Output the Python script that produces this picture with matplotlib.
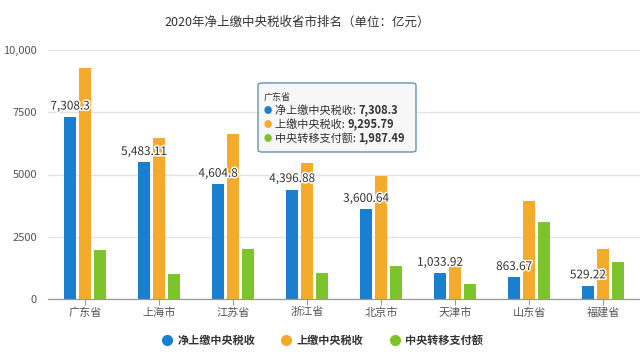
import matplotlib
matplotlib.use("Agg")
import matplotlib.pyplot as plt
from matplotlib.lines import Line2D
from matplotlib.patches import FancyBboxPatch
import matplotlib.patheffects as pe
import numpy as np

plt.rcParams['font.family'] = ['Noto Sans CJK SC', 'DejaVu Sans']

categories = ["广东省", "上海市", "江苏省", "浙江省", "北京市", "天津市", "山东省", "福建省"]
net_tax = [7308.3, 5483.11, 4604.8, 4396.88, 3600.64, 1033.92, 863.67, 529.22]
paid_tax = [9295.79, 6470, 6620, 5470, 4920, 1590, 3945, 2015]
transfer = [1987.49, 1015, 1995, 1055, 1330, 612, 3085, 1490]
series_names = ["净上缴中央税收", "上缴中央税收", "中央转移支付额"]
colors = ["#1a7fcf", "#f4aa2a", "#7cc42a"]
yticks = [0, 2500, 5000, 7500, 10000]
ytick_labels = ["0", "2500", "5000", "7500", "10,000"]
title = "2020年净上缴中央税收省市排名（单位：亿元）"

W, H = 640, 354
fig = plt.figure(figsize=(6.4, 3.54), dpi=100)
ax = fig.add_axes([48 / W, (H - 299) / H, 592 / W, 249 / H])

x = np.arange(len(categories))
bw = 12 / 74
off = 15 / 74
for i, (vals, c) in enumerate(zip([net_tax, paid_tax, transfer], colors)):
    ax.bar(x + (i - 1) * off, vals, width=bw, color=c, zorder=3)

for xi, v in zip(x, net_tax):
    s = f"{v:,.2f}".rstrip("0").rstrip(".")
    t = ax.text(xi - off, v + 180, s, ha="center", va="bottom", fontsize=8.5,
                color="#333333", zorder=5)
    t.set_path_effects([pe.withStroke(linewidth=2.2, foreground="white")])

ax.set_xlim(-0.5, len(categories) - 0.5)
ax.set_ylim(0, 10000)
ax.set_yticks(yticks)
ax.set_yticklabels(ytick_labels, fontsize=8, color="#555555")
ax.set_xticks(x)
ax.set_xticklabels(categories, fontsize=8, color="#555555")
ax.tick_params(axis="y", length=0, pad=8)
ax.tick_params(axis="x", length=4, color="#999999", pad=2)
for sp in ["top", "right", "left"]:
    ax.spines[sp].set_visible(False)
ax.spines["bottom"].set_color("#999999")
ax.spines["bottom"].set_linewidth(0.9)
ax.spines["bottom"].set_zorder(4)
ax.yaxis.grid(True, color="#e3e3e3", linewidth=1, zorder=0)
ax.set_axisbelow(True)

fig.text(297 / W, 1 - 22 / H, title, ha="center", va="center", fontsize=9,
         color="#333333")

handles = [Line2D([], [], marker="o", linestyle="none", markersize=7,
                  markerfacecolor=c, markeredgecolor=c) for c in colors]
leg = fig.legend(handles, series_names, loc="center", ncol=3,
                 bbox_to_anchor=(322 / W, 1 - 340 / H), frameon=False,
                 fontsize=8, handletextpad=0.45, columnspacing=2.3,
                 handlelength=1.0)
for t in leg.get_texts():
    t.set_color("#333333")
    t.set_fontweight("bold")

# tooltip
def fx(px):
    return px / W

def fy(py):
    return 1 - py / H

box = FancyBboxPatch((fx(258), fy(152)), fx(416) - fx(258), fy(83) - fy(152),
                     boxstyle="round,pad=0,rounding_size=0.006",
                     transform=fig.transFigure, facecolor="#f7f7f7",
                     edgecolor="#5b8bb5", linewidth=1.0, alpha=0.95, zorder=10)
fig.add_artist(box)
fig.text(fx(264), fy(97), categories[0], fontsize=6.5, color="#333333",
         va="center", ha="left", zorder=11)
renderer = fig.canvas.get_renderer()
vals0 = [net_tax[0], paid_tax[0], transfer[0]]
for k, (name, c, v) in enumerate(zip(series_names, colors, vals0)):
    yy = fy(110 + k * 14)
    fig.text(fx(264), yy, "●", fontsize=6, color=c, va="center", ha="left",
             zorder=11)
    lab = fig.text(fx(275), yy, name + ": ", fontsize=8, color="#333333",
                   va="center", ha="left", zorder=11)
    bb = lab.get_window_extent(renderer=renderer)
    s = f"{v:,.2f}".rstrip("0").rstrip(".")
    fig.text(bb.x1 / W, yy, s, fontsize=8, color="#333333", fontweight="bold",
             va="center", ha="left", zorder=11)

fig.savefig("out.png", dpi=100)
